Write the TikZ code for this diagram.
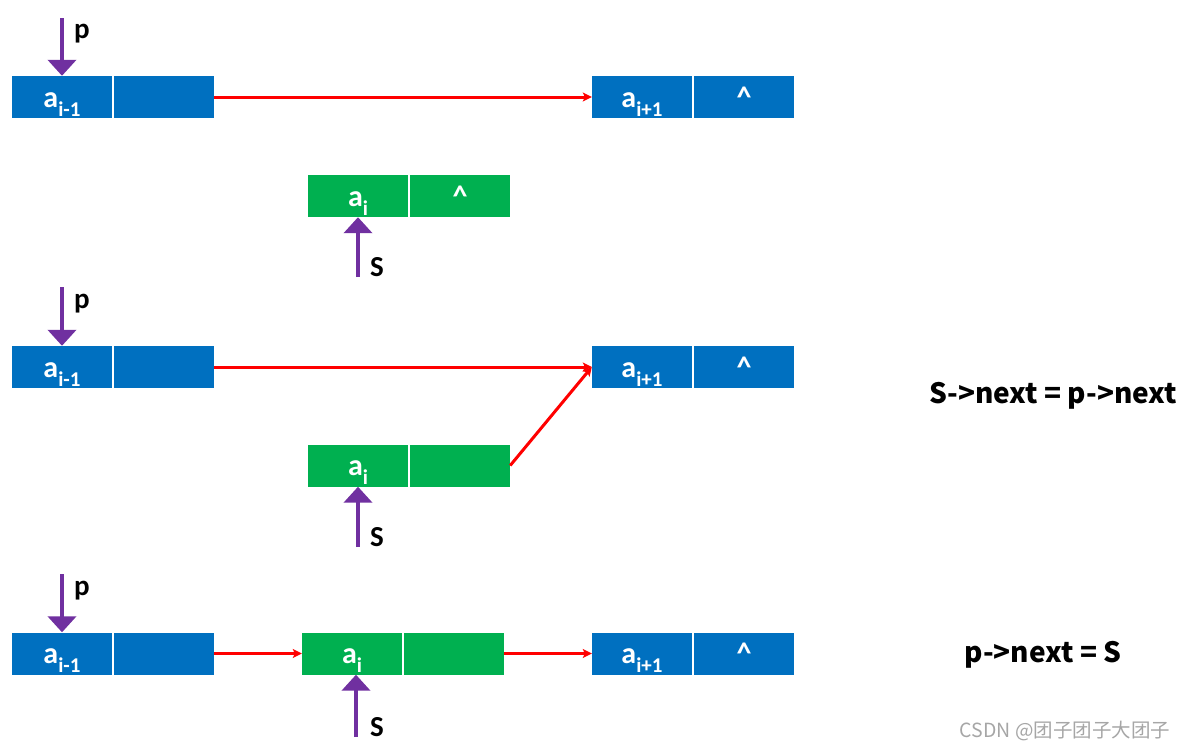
\documentclass[tikz,border=0pt]{standalone}
\usepackage{fontspec}
\setmainfont{Noto Sans CJK SC}
\newfontfamily\cellfont{Carlito}
\usetikzlibrary{arrows.meta}
\definecolor{cblue}{HTML}{0070C0}
\definecolor{cgreen}{HTML}{00B050}
\definecolor{cpurple}{HTML}{7030A0}
\definecolor{cred}{HTML}{FF0000}
\newcommand{\mysub}[1]{\raisebox{-0.3em}{\fontsize{21}{21}\selectfont #1}}
\begin{document}
\begin{tikzpicture}[x=1pt,y=-1pt,
  cellbase/.style={rectangle,minimum width=100pt,minimum height=42pt,inner sep=0pt,text height=22pt,text depth=2pt,text=white,font=\cellfont\bfseries\fontsize{30}{30}\selectfont},
  bcell/.style={cellbase,fill=cblue},
  gcell/.style={cellbase,fill=cgreen},
  parrow/.style={draw=cpurple,line width=4pt,-{Triangle[width=28pt,length=16pt]}},
  rarrow/.style={draw=cred,line width=3pt,-{Stealth[width=9pt,length=9pt,inset=2pt]}},
  lbl/.style={font=\cellfont\bfseries\fontsize{29}{29}\selectfont,text=black,inner sep=0pt},
  code/.style={font=\bfseries\fontsize{28}{28}\selectfont,text=black,inner sep=0pt}]
\useasboundingbox (0,0) rectangle (1185,750);
% ---------- row 1
\node[bcell] (a1) at (62,97) {a\mysub{i-1}};
\node[bcell] (a1r) at (164,97) {};
\node[bcell] (b1) at (642,97) {a\mysub{i+1}};
\node[bcell] (b1r) at (744,97) {\textasciicircum};
\coordinate (p1) at (62,18);
\draw[parrow] (p1) -- (a1.north);
\node[lbl] (pl1) at (82,34) {p};
\draw[rarrow] (a1r.east) -- (b1.west);
% green alone
\node[gcell] (g1) at (358,196) {a\mysub{i}};
\node[gcell] (g1r) at (460,196) {\textasciicircum};
\coordinate (s1) at (358,277);
\draw[parrow] (s1) -- (g1.south);
\node[lbl] (sl1) at (377,267) {S};
% ---------- row 2
\node[bcell] (a2) at (62,367) {a\mysub{i-1}};
\node[bcell] (a2r) at (164,367) {};
\node[bcell] (b2) at (642,367) {a\mysub{i+1}};
\node[bcell] (b2r) at (744,367) {\textasciicircum};
\coordinate (p2) at (62,287);
\draw[parrow] (p2) -- (a2.north);
\node[lbl] (pl2) at (82,304) {p};
\draw[rarrow] (a2r.east) -- (b2.west);
\node[gcell] (g2) at (358,465.5) {a\mysub{i}};
\node[gcell] (g2r) at (460,465.5) {};
\draw[rarrow] (g2r.east) -- (b2.west);
\coordinate (s2) at (358,547);
\draw[parrow] (s2) -- (g2.south);
\node[lbl] (sl2) at (377,537) {S};
\node[code] (c1) at (1053,396) {S->next = p->next};
% ---------- row 3
\node[bcell] (a3) at (62,653.5) {a\mysub{i-1}};
\node[bcell] (a3r) at (164,653.5) {};
\node[gcell] (g3) at (352,653.5) {a\mysub{i}};
\node[gcell] (g3r) at (454,653.5) {};
\node[bcell] (b3) at (642,653.5) {a\mysub{i+1}};
\node[bcell] (b3r) at (744,653.5) {\textasciicircum};
\coordinate (p3) at (62,574);
\draw[parrow] (p3) -- (a3.north);
\node[lbl] (pl3) at (82,591) {p};
\draw[rarrow] (a3r.east) -- (g3.west);
\draw[rarrow] (g3r.east) -- (b3.west);
\coordinate (s3) at (356,737);
\draw[parrow] (s3) -- (g3.south -| s3);
\node[lbl] (sl3) at (377,727) {S};
\node[code] (c2) at (1043,655) {p->next = S};
\node[font=\fontsize{19.5}{19.5}\selectfont,text=gray!70,inner sep=0pt] (wm) at (1065,731) {CSDN @团子团子大团子};
\end{tikzpicture}
\end{document}
